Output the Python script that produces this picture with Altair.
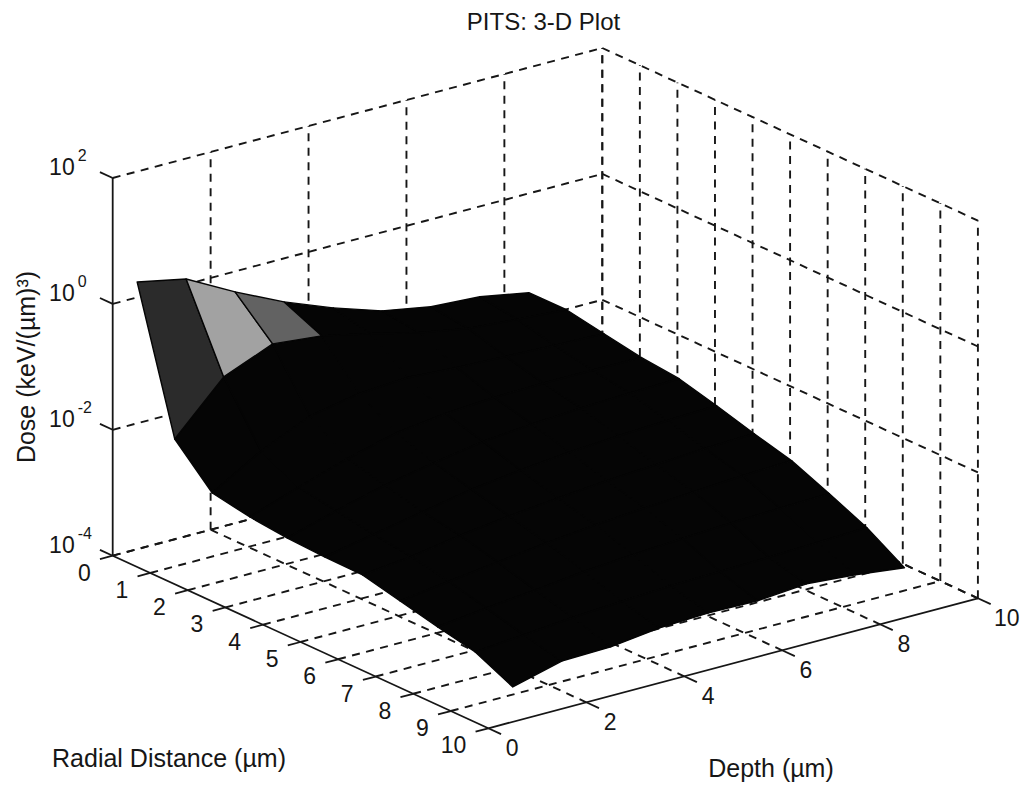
import altair as alt
import pandas as pd

# Values
radial = [0, 1, 2, 3, 4, 5, 6, 7, 8, 9, 10]
depth_grid = [0.5, 1.5, 2.5, 3.5, 4.5, 5.5, 6.5, 7.5, 8.5]
# log10(dose) per radial row and depth column
log_dose = [
    [0.245, 0.086, -0.326, -0.691, -0.993, -1.246, -1.388, -1.436, -1.578],
    [-1.975, -1.196, -0.878, -0.956, -1.13, -1.32, -1.46, -1.52, -1.574],
    [-2.559, -2.1, -1.75, -1.6, -1.55, -1.6, -1.63, -1.66, -1.681],
    [-2.666, -2.4, -2.15, -1.95, -1.85, -1.8, -1.78, -1.78, -1.787],
    [-2.726, -2.5, -2.3, -2.15, -2.02, -1.95, -1.9, -1.87, -1.847],
    [-2.753, -2.6, -2.45, -2.3, -2.2, -2.12, -2.07, -2.03, -2.002],
    [-2.764, -2.68, -2.55, -2.45, -2.37, -2.3, -2.25, -2.2, -2.173],
    [-2.904, -2.8, -2.7, -2.6, -2.52, -2.46, -2.41, -2.36, -2.327],
    [-3.042, -2.95, -2.87, -2.78, -2.72, -2.67, -2.63, -2.6, -2.577],
    [-3.166, -3.1, -3.03, -2.98, -2.94, -2.92, -2.9, -2.87, -2.844],
    [-3.447, -3.241, -3.223, -3.128, -3.096, -3.11, -3.047, -3.11, -3.206],
]
# Shaded facets: (radial index, depth index) -> grey
lit_cells = {(0, 0): "#2b2b2b", (0, 1): "#a2a2a2", (0, 2): "#626262"}

radial_ticks = list(range(0, 11))
depth_ticks = [0, 2, 4, 6, 8, 10]
dose_exponents = [-4, -2, 0, 2]
dose_labels = ["-4", "-2", "0", "2"]

FONT = "Liberation Sans"
INK = "#161616"
PAD_TOP = 32
W, H = 1013, 743


# Oblique view of the box: radial, depth, log10(dose) -> page position
def project(r, d, z):
    return (
        112.7 + 37.56 * r + 48.96 * d,
        555.7 + 17.26 * r - 13.0 * d - 62.95 * (z + 4),
    )


def seg(a, b):
    x, y = project(*a)
    x2, y2 = project(*b)
    return {"x": x, "y": y, "x2": x2, "y2": y2}


# Box grid
grid = []
for z in dose_exponents:
    grid.append(seg((0, 0, z), (0, 10, z)))
    grid.append(seg((0, 10, z), (10, 10, z)))
for d in depth_ticks[1:]:
    grid.append(seg((0, d, -4), (0, d, 2)))
    grid.append(seg((0, d, -4), (10, d, -4)))
for r in radial_ticks:
    grid.append(seg((r, 10, -4), (r, 10, 2)))
    if r < 10:
        grid.append(seg((r, 0, -4), (r, 10, -4)))

# Solid axes and ticks
axes = [seg((0, 0, -4), (0, 0, 2)), seg((0, 0, -4), (10, 0, -4)), seg((10, 0, -4), (10, 10, -4))]
for z in dose_exponents:
    axes.append(seg((0, 0, z), (-0.34, 0, z)))
for r in radial_ticks:
    axes.append(seg((r, 0, -4), (r, -0.26, -4)))
for d in depth_ticks:
    axes.append(seg((10, 0 + d, -4), (10.34, d, -4)))

# Surface facets
cells = []
for i in range(len(radial) - 1):
    for j in range(len(depth_grid) - 1):
        shade = lit_cells.get((i, j), "#050505")
        corners = [(i, j), (i, j + 1), (i + 1, j + 1), (i + 1, j)]
        for k, (a, b) in enumerate(corners):
            x, y = project(radial[a], depth_grid[b], log_dose[a][b])
            cells.append({"cell": f"{i}-{j}", "k": k, "x": x, "y": y, "shade": shade})
cells = pd.DataFrame(cells)

xs = alt.X("x:Q", scale=alt.Scale(domain=[8, 8 + W]), axis=None)
ys = alt.Y("y:Q", scale=alt.Scale(domain=[8 + PAD_TOP + H, 8 + PAD_TOP]), axis=None)

grid_layer = alt.Chart(pd.DataFrame(grid)).mark_rule(
    color=INK, strokeWidth=1.9, strokeDash=[8, 6.5]
).encode(x=xs, y=ys, x2="x2:Q", y2="y2:Q")

axes_layer = alt.Chart(pd.DataFrame(axes)).mark_rule(
    color=INK, strokeWidth=1.8
).encode(x=xs, y=ys, x2="x2:Q", y2="y2:Q")


def facets(frame):
    layers = []
    for shade, part in frame.groupby("shade", sort=False):
        layers.append(
            alt.Chart(part).mark_line(
                interpolate="linear-closed", fill=shade, stroke="#050505",
                strokeWidth=1.4, strokeJoin="round",
            ).encode(x=xs, y=ys, detail="cell:N", order="k:Q")
        )
    return layers


dark = cells[cells.shade == "#050505"]
lit = cells[cells.shade != "#050505"]
surface_layers = facets(dark) + facets(lit)


def text_layer(rows, size, align, dx, dy):
    return alt.Chart(pd.DataFrame(rows)).mark_text(
        font=FONT, fontSize=size, align=align, baseline="middle", dx=dx, dy=dy, color=INK
    ).encode(x=xs, y=ys, text="t:N")


def at(point, label):
    x, y = project(*point)
    return {"x": x, "y": y, "t": str(label)}


radial_text = text_layer([at((r, 0, -4), r) for r in radial_ticks], 23, "right", -22, 18)
depth_text = text_layer([at((10, d, -4), d) for d in depth_ticks[:-1]], 23, "left", 17.5, 21)
depth_text_end = text_layer([at((10, d, -4), d) for d in depth_ticks[-1:]], 23, "left", 16, 21)
dose_base = text_layer([at((0, 0, z), "10") for z in dose_exponents], 23, "right", -38, -10)
dose_sup = text_layer(
    [at((0, 0, z), s) for z, s in zip(dose_exponents, dose_labels)], 16, "left", -35, -22
)


def label(text, x, y, angle=0):
    return alt.Chart(pd.DataFrame({"t": [text]})).mark_text(
        font=FONT, fontSize=25, align="center", baseline="middle", angle=angle, color=INK
    ).encode(x=alt.value(x - 8), y=alt.value(y - 8 - PAD_TOP), text="t:N")


labels = [
    label("Radial Distance (\u00b5m)", 169, 759),
    label("Depth (\u00b5m)", 771, 769),
    label("Dose (keV/(\u00b5m)\u00b3)", 27, 367, 270),
]

chart = alt.layer(
    grid_layer, *surface_layers, axes_layer, radial_text, depth_text, depth_text_end,
    dose_base, dose_sup, *labels
).properties(
    width=W,
    height=H,
    background="#ffffff",
    padding={"left": 0, "right": 0, "top": PAD_TOP, "bottom": 0},
    autosize=alt.AutoSizeParams(type="none"),
    title=alt.TitleParams(
        "PITS: 3-D Plot", font=FONT, fontSize=24, fontWeight="normal", color=INK,
        anchor="middle", dx=29, offset=5,
    ),
).configure_view(stroke=None)

chart.save("out.html", embed_options={"renderer": "svg", "actions": False})
